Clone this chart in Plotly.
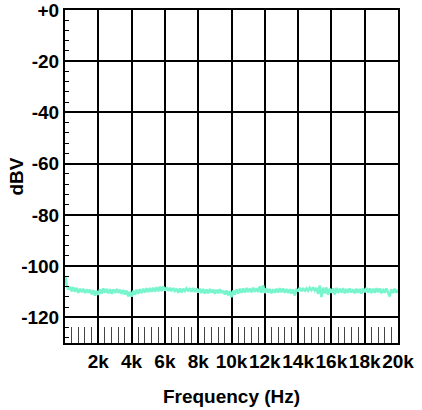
import plotly.graph_objects as go

# Frequency samples (Hz)
freq = [20] + list(range(100, 20001, 100))

level = [
    -103.8, -107.4, -109.1, -108.0, -109.8, -108.2, -110.0, -108.5, -110.4, -108.8, -110.1, -108.9, -110.5, -109.1, -110.3, -109.2, -111.0, -109.4, -111.5, -109.7,
    -111.2, -109.1, -110.7, -108.7, -110.4, -108.9, -110.6, -109.0, -110.8, -109.1, -110.5, -108.9, -110.4, -109.2, -110.8, -109.3, -111.1, -109.5, -111.8, -110.0,
    -111.9, -109.6, -111.2, -109.2, -110.8, -109.0, -110.5, -108.8, -110.3, -108.6, -110.1, -108.5, -110.0, -108.4, -109.9, -108.2, -109.8, -108.0, -109.7, -107.9,
    -109.5, -108.4, -109.6, -108.5, -109.8, -108.6, -109.7, -108.8, -110.4, -108.7, -110.3, -108.8, -109.7, -108.7, -109.8, -108.6, -110.0, -108.5, -110.1, -108.7,
    -110.3, -108.8, -110.5, -108.9, -110.7, -109.1, -110.6, -108.9, -110.4, -109.1, -110.8, -109.2, -110.6, -109.0, -110.5, -109.6, -111.1, -109.5, -111.4, -109.7,
    -112.1, -109.5, -111.1, -109.1, -110.7, -108.8, -110.4, -108.7, -110.3, -108.5, -110.1, -108.7, -110.2, -108.4, -110.0, -108.6, -110.1, -107.9, -110.4, -107.5,
    -110.5, -108.7, -110.3, -108.9, -110.6, -109.0, -110.4, -108.8, -110.3, -108.6, -110.2, -108.7, -110.4, -108.9, -110.5, -109.0, -110.7, -109.1, -111.4, -109.2,
    -109.6, -108.5, -109.8, -108.6, -109.8, -108.7, -109.6, -108.4, -109.4, -108.3, -109.5, -108.5, -110.8, -107.6, -112.1, -108.4, -110.6, -108.3, -111.2, -108.8,
    -110.4, -108.7, -111.0, -108.5, -110.5, -108.8, -110.3, -108.6, -110.6, -108.9, -110.4, -108.7, -110.3, -109.0, -110.6, -108.8, -110.4, -108.9, -110.7, -108.7,
    -110.2, -108.5, -110.3, -108.7, -110.5, -108.8, -110.4, -108.6, -110.2, -108.7, -110.6, -108.9, -110.4, -108.7, -110.3, -111.8, -109.0, -110.5, -108.8, -110.4, -109.1,
]

x_tickvals = [0, 2000, 4000, 6000, 8000, 10000, 12000, 14000, 16000, 18000, 20000]
x_ticktext = ["", "2k", "4k", "6k", "8k", "10k", "12k", "14k", "16k", "18k", "20k"]
y_tickvals = [0, -20, -40, -60, -80, -100, -120]
y_ticktext = ["+0", "-20", "-40", "-60", "-80", "-100", "-120"]

FONT = "Liberation Sans, Arial, Helvetica, sans-serif"

fig = go.Figure()
fig.add_trace(go.Scatter(
    x=freq, y=level, mode="lines",
    line=dict(color="#78F5CD", width=2.5),
    showlegend=False, hoverinfo="skip",
))

fig.update_layout(
    width=422, height=410,
    margin=dict(l=65, r=24, t=10, b=67),
    paper_bgcolor="white", plot_bgcolor="white",
    font=dict(family=FONT, size=19, color="black", weight="bold"),
)

fig.update_xaxes(
    range=[0, 20000], automargin=False, tickangle=0, ticklabeloverflow="allow",
    tickmode="array", tickvals=x_tickvals, ticktext=x_ticktext,
    showgrid=True, gridcolor="black", gridwidth=1.5,
    showline=True, linecolor="black", linewidth=2, mirror=True,
    ticks="inside", ticklen=16, tickcolor="black", tickwidth=1.5,
    minor=dict(dtick=400, tick0=0, ticks="inside", ticklen=16, tickcolor="#444444", tickwidth=1, showgrid=False),
    tickfont=dict(family=FONT, size=19, color="black", weight="bold"),
    zeroline=False,
    title=dict(text="Frequency (Hz)", font=dict(family=FONT, size=19, color="black", weight="bold"), standoff=19),
)

fig.update_yaxes(
    range=[-130, 0], automargin=False, ticklabeloverflow="allow",
    tickmode="array", tickvals=y_tickvals, ticktext=y_ticktext,
    showgrid=True, gridcolor="black", gridwidth=1.5,
    showline=True, linecolor="black", linewidth=2, mirror=True,
    ticks="inside", ticklen=4, tickcolor="black", tickwidth=1,
    minor=dict(dtick=4, tick0=0, ticks="inside", ticklen=4, tickcolor="black", tickwidth=1, showgrid=False),
    tickfont=dict(family=FONT, size=19, color="black", weight="bold"),
    zeroline=False,
)

fig.add_annotation(
    text="dBV", textangle=-90,
    xref="paper", yref="paper", x=0, y=0.5,
    xanchor="center", yanchor="middle", xshift=-49,
    showarrow=False,
    font=dict(family=FONT, size=19, color="black", weight="bold"),
)

fig.write_html(
    "out.html",
    config={"displayModeBar": False},
    post_script="document.body.style.margin='0';document.body.style.overflow='hidden';",
)
